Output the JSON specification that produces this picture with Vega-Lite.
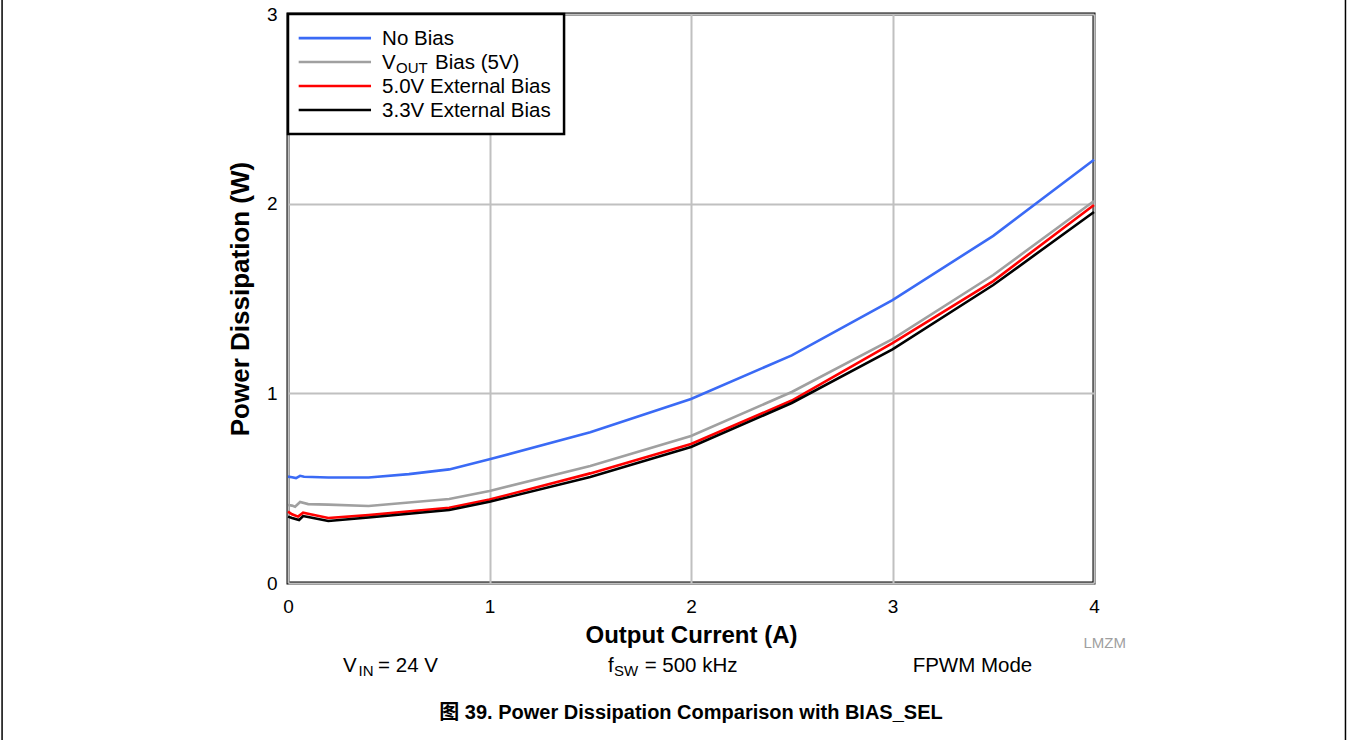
{
  "$schema": "https://vega.github.io/schema/vega-lite/v6.json",
  "width": 806,
  "height": 569,
  "autosize": {"type": "none"},
  "padding": {"left": 288, "top": 14, "right": 257, "bottom": 157},
  "background": "white",
  "config": {
    "view": {"stroke": "black", "strokeWidth": 3},
    "font": "Liberation Sans, Arial, Noto Sans CJK SC",
    "text": {"font": "Liberation Sans, Arial, Noto Sans CJK SC", "color": "black"}
  },
  "datasets": {
    "curves": [
      {"series": "No Bias", "current": 0, "power": 0.561},
      {"series": "No Bias", "current": 0.02, "power": 0.558},
      {"series": "No Bias", "current": 0.04, "power": 0.553},
      {"series": "No Bias", "current": 0.06, "power": 0.565},
      {"series": "No Bias", "current": 0.08, "power": 0.56},
      {"series": "No Bias", "current": 0.2, "power": 0.556},
      {"series": "No Bias", "current": 0.4, "power": 0.556},
      {"series": "No Bias", "current": 0.6, "power": 0.574},
      {"series": "No Bias", "current": 0.8, "power": 0.599},
      {"series": "No Bias", "current": 1.0, "power": 0.652},
      {"series": "No Bias", "current": 1.5, "power": 0.795},
      {"series": "No Bias", "current": 2.0, "power": 0.97},
      {"series": "No Bias", "current": 2.5, "power": 1.2},
      {"series": "No Bias", "current": 3.0, "power": 1.492},
      {"series": "No Bias", "current": 3.5, "power": 1.83},
      {"series": "No Bias", "current": 4.0, "power": 2.232},
      {"series": "VOUT Bias (5V)", "current": 0, "power": 0.411},
      {"series": "VOUT Bias (5V)", "current": 0.02, "power": 0.408},
      {"series": "VOUT Bias (5V)", "current": 0.035, "power": 0.402},
      {"series": "VOUT Bias (5V)", "current": 0.06, "power": 0.427},
      {"series": "VOUT Bias (5V)", "current": 0.1, "power": 0.416},
      {"series": "VOUT Bias (5V)", "current": 0.2, "power": 0.413},
      {"series": "VOUT Bias (5V)", "current": 0.4, "power": 0.406},
      {"series": "VOUT Bias (5V)", "current": 0.8, "power": 0.443},
      {"series": "VOUT Bias (5V)", "current": 1.0, "power": 0.485},
      {"series": "VOUT Bias (5V)", "current": 1.5, "power": 0.617},
      {"series": "VOUT Bias (5V)", "current": 2.0, "power": 0.775},
      {"series": "VOUT Bias (5V)", "current": 2.5, "power": 1.007},
      {"series": "VOUT Bias (5V)", "current": 3.0, "power": 1.286},
      {"series": "VOUT Bias (5V)", "current": 3.5, "power": 1.624},
      {"series": "VOUT Bias (5V)", "current": 4.0, "power": 2.014},
      {"series": "5.0V External Bias", "current": 0, "power": 0.376},
      {"series": "5.0V External Bias", "current": 0.02, "power": 0.362},
      {"series": "5.0V External Bias", "current": 0.05, "power": 0.35},
      {"series": "5.0V External Bias", "current": 0.075, "power": 0.371},
      {"series": "5.0V External Bias", "current": 0.1, "power": 0.365},
      {"series": "5.0V External Bias", "current": 0.2, "power": 0.343},
      {"series": "5.0V External Bias", "current": 0.4, "power": 0.358},
      {"series": "5.0V External Bias", "current": 0.8, "power": 0.397},
      {"series": "5.0V External Bias", "current": 1.0, "power": 0.44},
      {"series": "5.0V External Bias", "current": 1.5, "power": 0.578},
      {"series": "5.0V External Bias", "current": 2.0, "power": 0.733},
      {"series": "5.0V External Bias", "current": 2.5, "power": 0.962},
      {"series": "5.0V External Bias", "current": 3.0, "power": 1.265},
      {"series": "5.0V External Bias", "current": 3.5, "power": 1.592},
      {"series": "5.0V External Bias", "current": 4.0, "power": 1.993},
      {"series": "3.3V External Bias", "current": 0, "power": 0.35},
      {"series": "3.3V External Bias", "current": 0.02, "power": 0.343},
      {"series": "3.3V External Bias", "current": 0.055, "power": 0.332},
      {"series": "3.3V External Bias", "current": 0.075, "power": 0.353},
      {"series": "3.3V External Bias", "current": 0.1, "power": 0.348},
      {"series": "3.3V External Bias", "current": 0.2, "power": 0.327},
      {"series": "3.3V External Bias", "current": 0.4, "power": 0.345},
      {"series": "3.3V External Bias", "current": 0.8, "power": 0.385},
      {"series": "3.3V External Bias", "current": 1.0, "power": 0.428},
      {"series": "3.3V External Bias", "current": 1.5, "power": 0.559},
      {"series": "3.3V External Bias", "current": 2.0, "power": 0.717},
      {"series": "3.3V External Bias", "current": 2.5, "power": 0.949},
      {"series": "3.3V External Bias", "current": 3.0, "power": 1.232},
      {"series": "3.3V External Bias", "current": 3.5, "power": 1.571},
      {"series": "3.3V External Bias", "current": 4.0, "power": 1.956}
    ],
    "legendBox": [{"current": 0, "current2": 1.37, "power": 3, "power2": 2.367}],
    "legendSamples": [
      {"series": "No Bias", "current": 0.053, "current2": 0.412, "power": 2.873},
      {"series": "VOUT Bias (5V)", "current": 0.053, "current2": 0.412, "power": 2.747},
      {"series": "5.0V External Bias", "current": 0.053, "current2": 0.412, "power": 2.62},
      {"series": "3.3V External Bias", "current": 0.053, "current2": 0.412, "power": 2.494}
    ],
    "legendTexts": [
      {"current": 0.467, "power": 2.836, "label": "No Bias"},
      {"current": 0.467, "power": 2.71, "label": "V"},
      {"current": 0.73, "power": 2.71, "label": "Bias (5V)"},
      {"current": 0.467, "power": 2.583, "label": "5.0V External Bias"},
      {"current": 0.467, "power": 2.457, "label": "3.3V External Bias"}
    ],
    "mainTexts": [
      {"current": 0.273, "power": -0.468, "label": "V"},
      {"current": 0.447, "power": -0.468, "label": "= 24 V"},
      {"current": 1.588, "power": -0.468, "label": "f"},
      {"current": 1.77, "power": -0.468, "label": "= 500 kHz"},
      {"current": 3.1, "power": -0.468, "label": "FPWM Mode"}
    ],
    "subTexts": [
      {"current": 0.536, "power": 2.71, "label": "OUT"},
      {"current": 0.35, "power": -0.468, "label": "IN"},
      {"current": 1.618, "power": -0.468, "label": "SW"}
    ],
    "watermark": [{"current": 4.053, "power": -0.345, "label": "LMZM"}],
    "caption": [{"current": 2.0, "power": -0.717, "label": "图 39. Power Dissipation Comparison with BIAS_SEL"}],
    "pageBorder": [
      {"current": -1.419, "power": -0.83, "power2": 3.08},
      {"current": 5.248, "power": -0.83, "power2": 3.08}
    ]
  },
  "layer": [
    {
      "data": {"name": "curves"},
      "mark": {"type": "line", "strokeWidth": 2.6},
      "encoding": {
        "x": {
          "field": "current", "type": "quantitative",
          "scale": {"domain": [0, 4], "nice": false, "zero": false},
          "axis": {
            "title": "Output Current (A)", "values": [0, 1, 2, 3, 4], "format": "d",
            "grid": true, "gridColor": "#c0c0c0", "gridWidth": 2,
            "domain": false, "ticks": false, "labelFlush": false,
            "labelFontSize": 19, "labelColor": "black", "labelPadding": 14,
            "labelFont": "Liberation Sans",
            "titleFontSize": 24, "titleFontWeight": "bold", "titleColor": "black",
            "titlePadding": 7, "titleFont": "Liberation Sans"
          }
        },
        "y": {
          "field": "power", "type": "quantitative",
          "scale": {"domain": [0, 3], "nice": false, "zero": false},
          "axis": {
            "title": "Power Dissipation (W)", "values": [0, 1, 2, 3], "format": "d",
            "grid": true, "gridColor": "#c0c0c0", "gridWidth": 2,
            "domain": false, "ticks": false, "labelFlush": false,
            "labelFontSize": 19, "labelColor": "black", "labelPadding": 11,
            "labelFont": "Liberation Sans",
            "titleFontSize": 26, "titleFontWeight": "bold", "titleColor": "black",
            "titlePadding": 13, "titleFont": "Liberation Sans"
          }
        },
        "color": {
          "field": "series", "type": "nominal",
          "scale": {
            "domain": ["No Bias", "VOUT Bias (5V)", "5.0V External Bias", "3.3V External Bias"],
            "range": ["#3a6af5", "#a0a0a0", "#ff0000", "#000000"]
          },
          "legend": null
        },
        "order": {"field": "current", "type": "quantitative"}
      }
    },
    {
      "data": {"name": "legendBox"},
      "mark": {"type": "rect", "fill": "white", "stroke": "black", "strokeWidth": 2.5},
      "encoding": {
        "x": {"field": "current", "type": "quantitative"},
        "x2": {"field": "current2"},
        "y": {"field": "power", "type": "quantitative"},
        "y2": {"field": "power2"}
      }
    },
    {
      "data": {"name": "legendSamples"},
      "mark": {"type": "rule", "strokeWidth": 2.6},
      "encoding": {
        "x": {"field": "current", "type": "quantitative"},
        "x2": {"field": "current2"},
        "y": {"field": "power", "type": "quantitative"},
        "color": {"field": "series", "type": "nominal", "legend": null}
      }
    },
    {
      "data": {"name": "legendTexts"},
      "mark": {"type": "text", "align": "left", "baseline": "alphabetic", "fontSize": 20.5},
      "encoding": {
        "x": {"field": "current", "type": "quantitative"},
        "y": {"field": "power", "type": "quantitative"},
        "text": {"field": "label"}
      }
    },
    {
      "data": {"name": "mainTexts"},
      "mark": {"type": "text", "align": "left", "baseline": "alphabetic", "fontSize": 20.5},
      "encoding": {
        "x": {"field": "current", "type": "quantitative"},
        "y": {"field": "power", "type": "quantitative"},
        "text": {"field": "label"}
      }
    },
    {
      "data": {"name": "subTexts"},
      "mark": {"type": "text", "align": "left", "baseline": "alphabetic", "fontSize": 15, "dy": 4},
      "encoding": {
        "x": {"field": "current", "type": "quantitative"},
        "y": {"field": "power", "type": "quantitative"},
        "text": {"field": "label"}
      }
    },
    {
      "data": {"name": "watermark"},
      "mark": {"type": "text", "align": "center", "baseline": "alphabetic", "fontSize": 15, "color": "#a0a0a0"},
      "encoding": {
        "x": {"field": "current", "type": "quantitative"},
        "y": {"field": "power", "type": "quantitative"},
        "text": {"field": "label"}
      }
    },
    {
      "data": {"name": "caption"},
      "mark": {"type": "text", "align": "center", "baseline": "alphabetic", "fontSize": 20, "fontWeight": "bold"},
      "encoding": {
        "x": {"field": "current", "type": "quantitative"},
        "y": {"field": "power", "type": "quantitative"},
        "text": {"field": "label"}
      }
    },
    {
      "data": {"name": "pageBorder"},
      "mark": {"type": "rule", "color": "black", "strokeWidth": 1.5},
      "encoding": {
        "x": {"field": "current", "type": "quantitative"},
        "y": {"field": "power", "type": "quantitative"},
        "y2": {"field": "power2"}
      }
    }
  ]
}
